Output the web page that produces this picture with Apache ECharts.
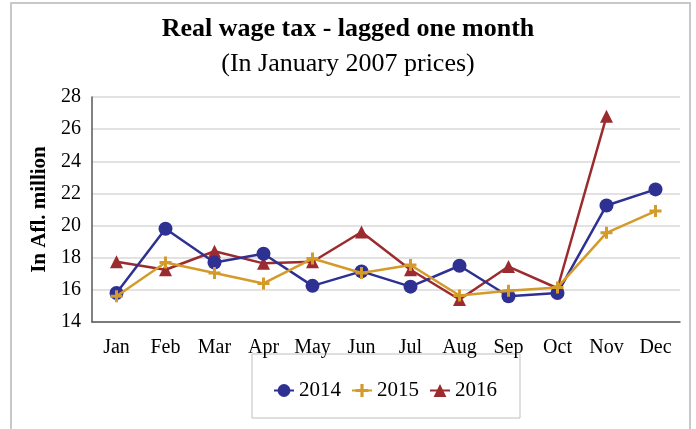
<!DOCTYPE html>
<html>
<head>
<meta charset="utf-8">
<script src="https://cdn.jsdelivr.net/npm/echarts@6/dist/echarts.min.js"></script>
<style>
  html, body { margin: 0; padding: 0; background: #fff; }
  #chart { width: 696px; height: 429px; }
</style>
</head>
<body>
<div id="chart"></div>
<script>
// months on the x axis
var months = ['Jan', 'Feb', 'Mar', 'Apr', 'May', 'Jun', 'Jul', 'Aug', 'Sep', 'Oct', 'Nov', 'Dec']

// values (Afl. million)
var y2014 = [15.8, 19.8, 17.7, 18.25, 16.25, 17.15, 16.2, 17.5, 15.6, 15.8, 21.25, 22.25]
var y2015 = [15.6, 17.7, 17.05, 16.4, 17.95, 17.05, 17.55, 15.65, 15.95, 16.15, 19.55, 20.9]
var y2016 = [17.75, 17.25, 18.4, 17.65, 17.75, 19.6, 17.25, 15.4, 17.45, 16.1, 26.8, null]

var yTicks = [14, 16, 18, 20, 22, 24, 26, 28]

var plusIcon = 'path://M3,0H5V3H8V5H5V8H3V5H0V3H3Z'
var font = '"Liberation Serif", "Times New Roman", serif'

var chart = echarts.init(document.getElementById('chart'))

chart.setOption({
  animation: false,
  backgroundColor: '#fff',
  textStyle: { fontFamily: font },
  title: [{
    text: 'Real wage tax - lagged one month',
    left: 'center',
    top: 11,
    textStyle: { fontFamily: font, fontSize: 26, fontWeight: 'bold', color: '#000' }
  }, {
    text: '(In January 2007 prices)',
    left: 'center',
    top: 46,
    textStyle: { fontFamily: font, fontSize: 26, fontWeight: 'normal', color: '#000' }
  }],
  graphic: [{
    type: 'polyline',
    shape: { points: [[11, 440], [11, 3], [690, 3], [690, 440]] },
    style: { stroke: '#c8c8c8', lineWidth: 2, fill: null },
    silent: true
  }, {
    type: 'rect',
    shape: { x: 252, y: 354, width: 268, height: 64 },
    style: { stroke: '#bfbfbf', lineWidth: 1, fill: '#fff' },
    z: 0,
    silent: true
  }],
  grid: {
    left: 92,
    right: 16,
    top: 97,
    bottom: 107,
    containLabel: false
  },
  legend: {
    top: 375,
    left: 268,
    itemGap: 10,
    itemWidth: 20,
    itemHeight: 16,
    textStyle: { fontFamily: font, fontSize: 21, color: '#000' },
    z: 5,
    data: ['2014', '2015', '2016']
  },
  xAxis: {
    type: 'category',
    data: months,
    boundaryGap: true,
    axisTick: { show: false },
    axisLine: { lineStyle: { color: '#595959', width: 1.5 } },
    axisLabel: { color: '#000', fontSize: 20, fontFamily: font, margin: 16 }
  },
  yAxis: {
    type: 'value',
    min: yTicks[0],
    max: yTicks[yTicks.length - 1],
    interval: 2,
    name: 'In Afl. million',
    nameLocation: 'middle',
    nameGap: 37,
    nameTextStyle: { fontFamily: font, fontSize: 21, fontWeight: 'bold', color: '#000' },
    axisLine: { show: true, lineStyle: { color: '#595959', width: 1.5 } },
    axisTick: { show: false },
    axisLabel: { color: '#000', fontSize: 20, fontFamily: font, margin: 11 },
    splitLine: { lineStyle: { color: '#d9d9d9', width: 1.5 } }
  },
  series: [{
    name: '2014',
    type: 'line',
    data: y2014,
    symbol: 'circle',
    symbolSize: 14,
    lineStyle: { width: 2.5, color: '#2e3192' },
    itemStyle: { color: '#2e3192' },
    z: 3
  }, {
    name: '2015',
    type: 'line',
    data: y2015,
    symbol: plusIcon,
    symbolSize: 12,
    lineStyle: { width: 2.5, color: '#d49a2a' },
    itemStyle: { color: '#d49a2a' },
    z: 4
  }, {
    name: '2016',
    type: 'line',
    data: y2016,
    symbol: 'triangle',
    symbolSize: 13,
    lineStyle: { width: 2.5, color: '#9b2b2e' },
    itemStyle: { color: '#9b2b2e' },
    z: 2
  }]
})
</script>
</body>
</html>
